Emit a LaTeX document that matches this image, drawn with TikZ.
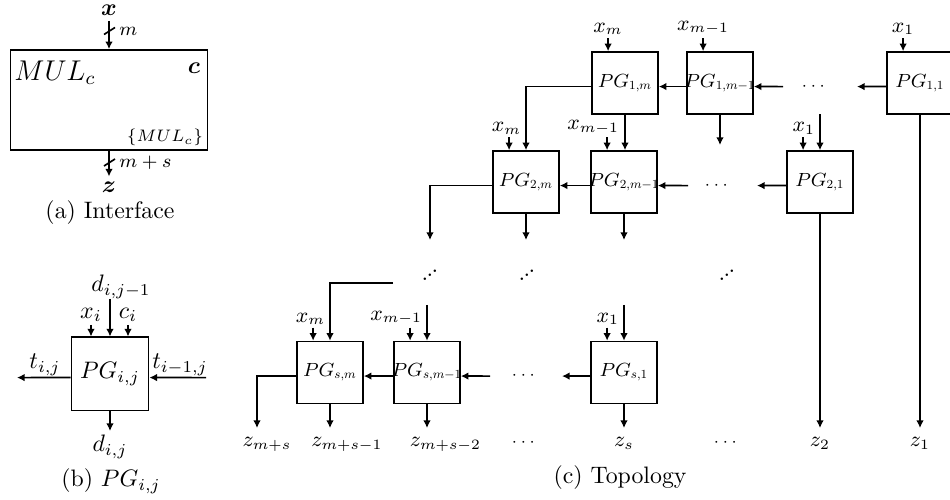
\documentclass[tikz,border=0pt]{standalone}
\usepackage{amsmath}
\usepackage{bm}
\usepackage{graphicx}
\usetikzlibrary{arrows.meta,calc}
\newcommand{\updots}{.\kern-0.7pt\raisebox{1.7pt}{.}\kern-0.7pt\raisebox{3.4pt}{.}}
\newcommand{\PGlab}[1]{$PG_{\scalebox{0.65}{$#1$}}$}
\begin{document}
\begin{tikzpicture}[x=0.42pt,y=-0.42pt,
  ln/.style={line width=0.7pt},
  arr/.style={ln,-{Latex[length=3.2pt,width=3.2pt]}},
  pg/.style={draw,ln,minimum width=27.7pt,minimum height=26pt,inner sep=0pt,font=\footnotesize},
  lab/.style={inner sep=0pt},
  inl/.style={above,inner sep=1.2pt,font=\small},
  inr/.style={anchor=south east,inner sep=0.6pt,font=\small},
  zl/.style={anchor=base,font=\small},
  hdots/.style={inner sep=0pt,font=\scriptsize},
  ddotsn/.style={inner sep=0pt},
]
\useasboundingbox (0,0) rectangle (950,500);

% ---------- (a) Interface ----------
\node[draw,ln,minimum width=82.7pt,minimum height=42pt,inner sep=0pt] (mul) at (109,100) {};
\node[anchor=west,inner sep=0pt,font=\large] (mulname) at (14,73) {$MUL_c$};
\node[inner sep=0pt] (cvec) at (194,68) {$\bm{c}$};
\node[anchor=south east,inner sep=1pt,font=\scriptsize] (mulset) at (206,149) {$\{MUL_c\}$};
\node[anchor=base,inner sep=0pt] (xvec) at (109,15.5) {$\bm{x}$};
\coordinate (xin) at (109,21);
\draw[arr] (xin) -- (mul.north);
\draw[ln] (104,34.5) -- (115,27.5);
\node[anchor=west,inner sep=0pt,font=\footnotesize] (mlab) at (119,31) {$m$};
\node[inner sep=2pt] (zvec) at (109,187) {$\bm{z}$};
\draw[arr] (mul.south) -- (zvec.north);
\draw[ln] (104,166) -- (115,159);
\node[anchor=west,inner sep=0pt,font=\footnotesize] (mslab) at (119,163) {$m+s$};
\node (capa) at (110,213) {(a) Interface};

% ---------- (b) PG_{i,j} ----------
\node[draw,ln,minimum width=32.4pt,minimum height=30.8pt,inner sep=0pt] (pgb) at (110,374) {$PG_{i,j}$};
\node[lab] (dtop) at (121,287) {$d_{i,j-1}$};
\coordinate (bdin) at (110,299);
\draw[arr] (bdin) -- (bdin |- pgb.north);
\coordinate (bxin) at (91,325);
\draw[arr] (bxin) -- (bxin |- pgb.north);
\node[above,inner sep=1.2pt] (bxl) at (bxin) {$x_i$};
\coordinate (bcin) at (128,325);
\draw[arr] (bcin) -- (bcin |- pgb.north);
\node[above,inner sep=1.2pt] (bcl) at (bcin) {$c_i$};
\coordinate (btl) at (17,377.6);
\draw[arr] ([yshift=-1.5pt]pgb.west) -- (btl);
\node[lab] (btll) at (45,365) {$t_{i,j}$};
\coordinate (btr) at (206,377.6);
\draw[arr] (btr) -- ([yshift=-1.5pt]pgb.east);
\node[lab] (btrl) at (180,365) {$t_{i-1,j}$};
\coordinate (bdout) at (110,431);
\draw[arr] (pgb.south) -- (bdout);
\node[lab] (bdl) at (110,447) {$d_{i,j}$};
\node (capb) at (111,481) {(b) $PG_{i,j}$};

% ---------- (c) Topology ----------
\node[pg] (r1m)  at (625,83) {\makebox[0pt]{\PGlab{1{,}m}}};
\node[pg] (r1m1) at (720,83) {\makebox[0pt]{\PGlab{1{,}m{-}1}}};
\node[pg] (r11)  at (920,83) {\makebox[0pt]{\PGlab{1{,}1}}};
\node[pg] (r2m)  at (526,182) {\makebox[0pt]{\PGlab{2{,}m}}};
\node[pg] (r2m1) at (624,182) {\makebox[0pt]{\PGlab{2{,}m{-}1}}};
\node[pg] (r21)  at (820,182) {\makebox[0pt]{\PGlab{2{,}1}}};
\node[pg] (rsm)  at (330,372.5) {\makebox[0pt]{\PGlab{s{,}m}}};
\node[pg] (rsm1) at (427,372.5) {\makebox[0pt]{\PGlab{s{,}m{-}1}}};
\node[pg] (rs1)  at (624,372.5) {\makebox[0pt]{\PGlab{s{,}1}}};

% short x inputs: row 1 labels centred, other rows right-aligned
\foreach \n/\t in {r1m/x_m, r1m1/x_{m-1}, r11/x_1} {
  \coordinate (q\n) at ($(\n.north west)!0.25!(\n.north east)+(0,-13)$);
  \draw[arr] (q\n) -- (q\n |- \n.north);
  \node[inl] (l\n) at (q\n) {$\t$};
}
\foreach \n/\t in {r2m/x_m, r2m1/x_{m-1}, r21/x_1, rsm/x_m, rsm1/x_{m-1}, rs1/x_1} {
  \coordinate (q\n) at ($(\n.north west)!0.25!(\n.north east)+(0,-13)$);
  \draw[arr] (q\n) -- (q\n |- \n.north);
  \node[inr] (l\n) at ($(\n.north)+(-3,-14)$) {$\t$};
}

% row 1
\draw[arr] ([yshift=-1.5pt]r1m.west) -| (r2m.north);
\draw[arr] (r1m.south) -- (r1m.south |- r2m1.north);
\coordinate (e1m1) at (720,145);
\draw[arr] (r1m1.south) -- (e1m1);
\draw[arr] ([yshift=-1.5pt]r1m1.west) -- ([yshift=-1.5pt]r1m.east);
\coordinate (s1a) at (783,86.6);
\draw[arr] (s1a) -- ([yshift=-1.5pt]r1m1.east);
\node[hdots] (d1) at (815,86.6) {$\cdots$};
\coordinate (e11) at (857,86.6);
\draw[arr] ([yshift=-1.5pt]r11.west) -- (e11);

% row 2
\coordinate (s21) at (820,114.5);
\draw[arr] (s21) -- (r21.north);
\coordinate (e21) at (757,185.6);
\draw[arr] ([yshift=-1.5pt]r21.west) -- (e21);
\node[hdots] (d2) at (718,185.6) {$\cdots$};
\coordinate (s2a) at (688,185.6);
\draw[arr] (s2a) -- ([yshift=-1.5pt]r2m1.east);
\draw[arr] ([yshift=-1.5pt]r2m1.west) -- ([yshift=-1.5pt]r2m.east);
\coordinate (e2l) at (430,240);
\draw[arr] ([yshift=-1.5pt]r2m.west) -| (e2l);
\coordinate (e2m) at (526,240);
\draw[arr] (r2m.south) -- (e2m);
\coordinate (e2m1) at (624,240);
\draw[arr] (r2m1.south) -- (e2m1);

% diagonal dots row
\node[ddotsn] (v1) at (430,275) {\updots};
\node[ddotsn] (v2) at (527,275) {\updots};
\node[ddotsn] (v3) at (727,275) {\updots};

% row s
\coordinate (ssl) at (393,283);
\draw[arr] (ssl) -| (rsm.north);
\coordinate (ssm1) at (427,305);
\draw[arr] (ssm1) -- (rsm1.north);
\coordinate (ss1) at (624,305);
\draw[arr] (ss1) -- (rs1.north);
\draw[arr] ([yshift=-1.5pt]rsm1.west) -- ([yshift=-1.5pt]rsm.east);
\coordinate (ssa) at (490,376.1);
\draw[arr] (ssa) -- ([yshift=-1.5pt]rsm1.east);
\node[hdots] (d3) at (525,376.1) {$\cdots$};
\coordinate (es1) at (562,376.1);
\draw[arr] ([yshift=-1.5pt]rs1.west) -- (es1);

% outputs
\coordinate (zline) at (0,428);
\coordinate (ezl) at (257,428);
\draw[arr] ([yshift=-1.5pt]rsm.west) -| (ezl);
\draw[arr] (rsm.south) -- (rsm.south |- zline);
\draw[arr] (rsm1.south) -- (rsm1.south |- zline);
\draw[arr] (rs1.south) -- (rs1.south |- zline);
\draw[arr] (r21.south) -- (r21.south |- zline);
\draw[arr] (r11.south) -- (r11.south |- zline);

\node[zl] (zms)  at (267,447) {$z_{m+s}$};
\node[zl] (zms1) at (347,447) {$z_{m+s-1}$};
\node[zl] (zms2) at (445.5,447) {$z_{m+s-2}$};
\node[hdots] (d4) at (525,443) {$\cdots$};
\node[zl] (zs) at (624,447) {$z_s$};
\node[hdots] (d5) at (727,443) {$\cdots$};
\node[zl] (z2) at (820,447) {$z_2$};
\node[zl] (z1) at (920,447) {$z_1$};

\node (capc) at (620,478) {(c) Topology};
\end{tikzpicture}
\end{document}
